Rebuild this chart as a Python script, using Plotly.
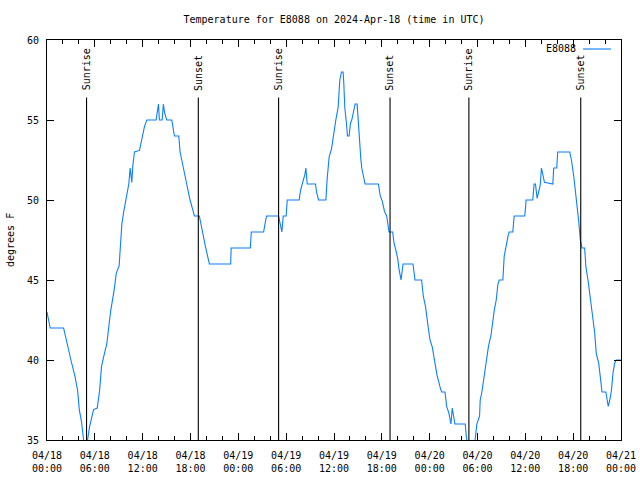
import plotly.graph_objects as go

# ---- data (hours since 2024-04-18 00:00 UTC, degrees F) ----
hours = [0.0, 0.4, 2.08, 2.5, 3.0, 3.5, 3.84, 4.05, 4.34, 4.59, 4.85, 5.09, 5.33, 5.84, 6.3, 6.6, 6.84,
         7.2, 7.5, 7.8, 8.0, 8.43, 8.68, 9.05, 9.26, 9.39, 9.6, 9.93, 10.26, 10.43, 10.64, 10.76, 10.97,
         11.6, 11.89, 12.23, 12.52, 13.69, 13.98, 14.1, 14.44, 14.6, 14.73, 15.02, 15.65, 15.98, 16.53,
         16.69, 17.11, 17.57, 17.94, 18.28, 18.49, 19.11, 19.45, 19.87, 20.37, 20.55, 23.04, 23.1,
         25.5, 25.63, 27.17, 27.38, 27.54, 29.05, 29.3, 29.46, 29.63, 30.0, 30.13,
         31.63, 31.8, 32.05, 32.35, 32.47, 32.64, 33.68, 33.81, 34.06, 34.98, 35.14, 35.39, 35.69,
         36.02, 36.23, 36.52, 36.73, 36.94, 37.14, 37.23, 37.35, 37.56, 37.69, 37.9, 38.06, 38.23,
         38.48, 38.65, 38.9, 39.07, 39.23, 39.36, 39.48, 39.73, 39.9, 41.57, 41.78, 42.07, 42.33,
         42.61, 42.82, 42.9, 43.36, 43.53, 43.74, 43.99, 44.15, 44.41, 44.66, 45.91, 46.16, 46.99,
         47.2, 47.49, 47.75, 48.04, 48.33, 48.58, 48.92, 49.29, 49.5, 49.92, 50.13, 50.4, 50.67,
         50.83, 51.17, 52.46, 52.6, 52.9, 53.3, 53.7, 53.92, 54.26, 54.34, 54.55, 54.76, 54.97,
         55.18, 55.39, 55.68, 55.89, 56.1, 56.35, 56.55, 56.72, 57.18, 57.35, 57.56, 57.81, 57.97,
         58.43, 58.6, 59.93, 60.1, 60.93, 61.1, 61.27, 61.48, 61.69, 61.86, 62.02, 62.19, 62.4,
         63.45, 63.56, 63.94, 64.06, 65.57, 65.78, 66.07, 66.28, 66.49, 66.7, 66.9, 67.11, 67.44,
         67.6, 67.86, 68.15, 68.45, 68.7, 68.9, 69.2, 69.4, 69.62, 70.1, 70.25, 70.4, 70.6, 70.8,
         71.0, 71.2, 71.4, 72.0]
temps = [43.0, 42.0, 42.0, 41.0, 40.0, 39.0, 38.1, 36.9, 36.1, 35.0, 34.4, 35.0, 35.8, 36.9, 37.0, 38.1, 39.6,
         40.4, 41.0, 42.3, 43.1, 44.4, 45.4, 45.9, 47.5, 48.5, 49.2, 50.0, 51.0, 52.0, 51.1, 52.1, 53.0,
         53.1, 53.9, 54.6, 55.0, 55.0, 56.0, 55.0, 55.0, 56.0, 55.5, 55.0, 55.0, 54.0, 54.0,
         53.0, 52.0, 50.8, 50.0, 49.4, 49.0, 49.0, 48.1, 47.1, 46.0, 46.0, 46.0, 47.0,
         47.0, 48.0, 48.0, 48.6, 49.0, 49.0, 48.5, 48.0, 49.0, 49.0, 50.0,
         50.0, 50.6, 51.0, 51.6, 52.0, 51.0, 51.0, 50.5, 50.0, 50.0, 51.3, 52.7, 53.2,
         54.5, 55.0, 55.8, 57.5, 58.0, 58.0, 57.3, 55.8, 54.8, 54.0, 54.0, 54.8, 55.0,
         55.6, 56.0, 56.0, 54.6, 53.5, 52.6, 52.0, 51.5, 51.0, 51.0, 50.3, 49.9, 49.3,
         49.0, 48.1, 48.0, 48.0, 47.3, 46.9, 46.35, 45.7, 45.0, 46.0, 46.0, 45.0, 45.0,
         44.0, 43.3, 42.3, 41.25, 40.8, 40.0, 39.06, 38.33, 38.0, 38.0, 37.1, 36.7, 36.0,
         37.0, 36.0, 36.0, 35.2, 34.3, 34.0, 35.0, 36.0, 36.5, 37.5, 38.0, 38.75, 39.3,
         40.2, 40.9, 41.5, 42.5, 43.1, 43.75, 44.7, 45.0, 45.0, 46.5, 47.1, 47.7, 48.0,
         48.0, 49.0, 49.0, 50.0, 50.0, 51.0, 51.0, 50.1, 50.5, 50.9, 52.0, 51.6, 51.1,
         51.0, 52.0, 52.0, 53.0, 53.0, 52.5, 51.5, 50.6, 49.7, 48.65, 47.5, 47.0, 47.0,
         45.8, 45.0, 43.75, 42.7, 41.7, 40.4, 39.8, 38.96, 38.0, 38.0, 37.5, 37.1, 37.5, 38.1,
         39.2, 39.8, 40.0, 40.0]

sun_times = [4.96, 18.98, 29.05, 43.03, 52.92, 66.95]
sun_labels = ["Sunrise", "Sunset", "Sunrise", "Sunset", "Sunrise", "Sunset"]
sun_line_top = 56.4

tick_hours = [0, 6, 12, 18, 24, 30, 36, 42, 48, 54, 60, 66, 72]
tick_labels = ["04/18<br>00:00", "04/18<br>06:00", "04/18<br>12:00", "04/18<br>18:00",
               "04/19<br>00:00", "04/19<br>06:00", "04/19<br>12:00", "04/19<br>18:00",
               "04/20<br>00:00", "04/20<br>06:00", "04/20<br>12:00", "04/20<br>18:00",
               "04/21<br>00:00"]
series_name = "E8088"
title_text = "Temperature for E8088 on 2024-Apr-18 (time in UTC)"

FONT = "DejaVu Sans Mono"
BLUE = "#0a7fff"

fig = go.Figure()
fig.add_trace(go.Scatter(x=hours, y=temps, mode="lines", name=series_name,
                         line=dict(color=BLUE, width=1.1), showlegend=False))

for t, lab in zip(sun_times, sun_labels):
    fig.add_shape(type="line", xref="x", yref="y", x0=t, x1=t, y0=35, y1=sun_line_top,
                  line=dict(color="black", width=1.1))
    fig.add_annotation(x=t, y=sun_line_top + 0.3, xref="x", yref="y", text=lab, textangle=-90,
                       showarrow=False, xanchor="center", yanchor="bottom",
                       font=dict(family=FONT, size=10, color="black"))

# legend (text left of sample, gnuplot style)
fig.add_annotation(x=(578 - 47) / 574, y=(440 - 49) / 400, xref="paper", yref="paper",
                   text=series_name, showarrow=False, xanchor="right", yanchor="middle",
                   font=dict(family=FONT, size=10, color="black"))
fig.add_shape(type="line", xref="paper", yref="paper",
              x0=(583 - 47) / 574, x1=(611 - 47) / 574,
              y0=(440 - 49) / 400, y1=(440 - 49) / 400,
              line=dict(color=BLUE, width=1.1))

# y axis label
fig.add_annotation(x=(10 - 47) / 574, y=0.5, xref="paper", yref="paper", text="degrees F",
                   textangle=-90, showarrow=False, xanchor="center", yanchor="middle",
                   font=dict(family=FONT, size=10, color="black"))

fig.update_layout(
    width=640, height=480,
    margin=dict(l=47, r=19, t=40, b=40, autoexpand=False),
    paper_bgcolor="white", plot_bgcolor="white",
    font=dict(family=FONT, size=10, color="black"),
    title=dict(text=title_text, x=0.5, xref="paper", xanchor="center",
               y=1 - 19 / 480, yanchor="middle", font=dict(family=FONT, size=10, color="black")),
    showlegend=False,
)
fig.update_xaxes(range=[0, 72], tickvals=tick_hours, ticktext=tick_labels, automargin=False,
                 showgrid=False, zeroline=False, showline=True, linecolor="black", linewidth=1,
                 mirror="ticks", ticks="inside", ticklen=7, tickcolor="black",
                 ticklabelstandoff=6,
                 minor=dict(dtick=2, tick0=0, ticks="inside", ticklen=4, tickcolor="black", showgrid=False),
                 tickfont=dict(family=FONT, size=10))
fig.update_yaxes(range=[35, 60], tick0=35, dtick=5, automargin=False,
                 showgrid=False, zeroline=False, showline=True, linecolor="black", linewidth=1,
                 mirror="ticks", ticks="inside", ticklen=7, tickcolor="black",
                 ticklabelstandoff=5,
                 tickfont=dict(family=FONT, size=10))

fig.write_html("out.html", config={"displayModeBar": False},
               post_script="document.body.style.margin='0px';")
